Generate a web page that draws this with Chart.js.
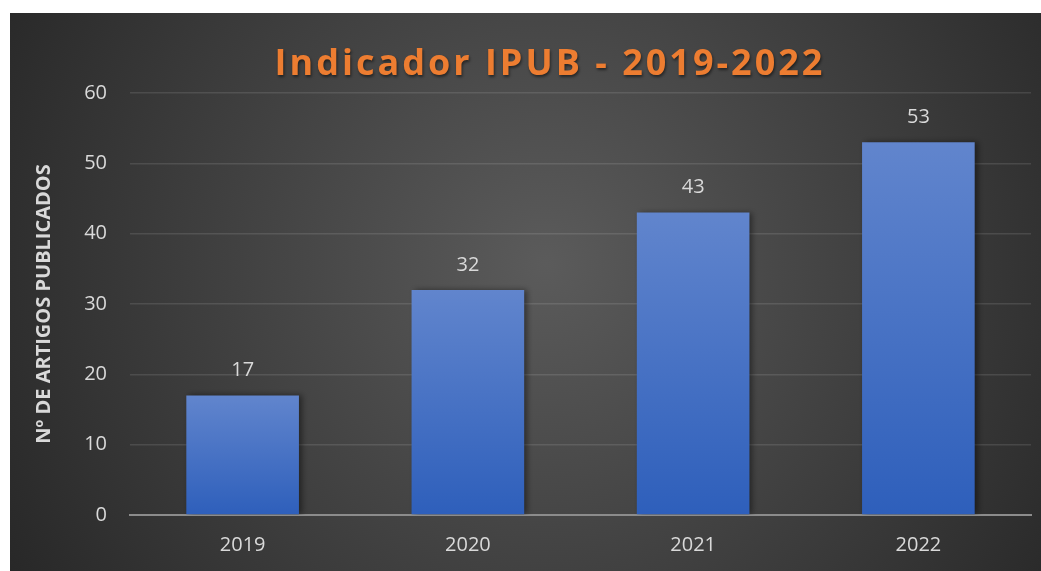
<!DOCTYPE html>
<html>
<head>
<meta charset="UTF-8">
<title>Indicador IPUB</title>
<script src="https://cdn.jsdelivr.net/npm/chart.js"></script>
<style>
    html, body { margin: 0; padding: 0; background: #fff; overflow: hidden; }
    #wrap { position: absolute; left: 10px; top: 13px; width: 1031px; height: 558px; }
</style>
</head>
<body>
<div id="wrap"><canvas id="barChart"></canvas></div>

<script>
    // dados do gráfico
    const anos = ['2019', '2020', '2021', '2022'];
    const artigos = [17, 32, 43, 53];
    const yTicks = [0, 10, 20, 30, 40, 50, 60];
    const titulo = 'Indicador IPUB - 2019-2022';

    const txtCor = '#d9d9d9';
    const fonte = '"Open Sans", sans-serif';

    // fundo escuro com gradiente radial + título
    const fundo = {
        id: 'fundo',
        beforeDraw(chart) {
            const ctx = chart.ctx;
            const w = chart.width, h = chart.height;
            const g = ctx.createRadialGradient(w * 0.52, h * 0.45, 0, w * 0.52, h * 0.45, w * 0.62);
            g.addColorStop(0, '#5b5b5b');
            g.addColorStop(1, '#262626');
            ctx.save();
            ctx.fillStyle = g;
            ctx.fillRect(0, 0, w, h);

            // título com espaçamento e sombra
            ctx.fillStyle = '#ed7d31';
            ctx.font = 'bold 36px ' + fonte;
            ctx.letterSpacing = '3px';
            ctx.textAlign = 'center';
            ctx.textBaseline = 'middle';
            ctx.shadowColor = 'rgba(0,0,0,0.5)';
            ctx.shadowBlur = 3;
            ctx.shadowOffsetX = 1;
            ctx.shadowOffsetY = 2;
            ctx.fillText(titulo, 540, 52);
            ctx.restore();
        }
    };

    // sombra nas barras
    const sombra = {
        id: 'sombra',
        beforeDatasetsDraw(chart) {
            const ctx = chart.ctx;
            ctx.save();
            ctx.shadowColor = 'rgba(0,0,0,0.45)';
            ctx.shadowBlur = 6;
            ctx.shadowOffsetX = 3;
            ctx.shadowOffsetY = 0;
        },
        afterDatasetsDraw(chart) {
            chart.ctx.restore();
        }
    };

    // rótulos de valor acima das barras
    const rotulos = {
        id: 'rotulos',
        afterDatasetsDraw(chart) {
            const ctx = chart.ctx;
            const meta = chart.getDatasetMeta(0);
            ctx.save();
            ctx.fillStyle = txtCor;
            ctx.font = '20px ' + fonte;
            ctx.textAlign = 'center';
            ctx.textBaseline = 'middle';
            meta.data.forEach(function(bar, i) {
                ctx.fillText(String(artigos[i]), bar.x, bar.y - 25);
            });
            ctx.restore();
        }
    };

    function corBarra(context) {
        const chart = context.chart;
        const y = chart.scales.y;
        if (!y || context.dataIndex === undefined) return '#4472c4';
        const topo = y.getPixelForValue(artigos[context.dataIndex]);
        const base = y.getPixelForValue(0);
        if (!isFinite(topo) || !isFinite(base)) return '#4472c4';
        const g = chart.ctx.createLinearGradient(0, topo, 0, base);
        g.addColorStop(0, '#6185cd');
        g.addColorStop(1, '#2e5fbb');
        return g;
    }

    const config = {
        type: 'bar',
        data: {
            labels: anos,
            datasets: [{
                label: 'Nº de artigos',
                data: artigos,
                backgroundColor: corBarra,
                borderWidth: 0,
                barPercentage: 0.5,
                categoryPercentage: 1.0
            }]
        },
        options: {
            responsive: true,
            maintainAspectRatio: false,
            animation: false,
            layout: {
                padding: { left: 0, right: 10, top: 80, bottom: 14 }
            },
            plugins: {
                legend: { display: false },
                tooltip: { enabled: false },
                title: { display: false }
            },
            scales: {
                x: {
                    afterFit: function(scale) { scale.height = 42; },
                    grid: { display: false, drawTicks: false },
                    border: { display: true, color: '#8c8c8c', width: 2 },
                    ticks: {
                        color: txtCor,
                        padding: 18,
                        font: { family: fonte, size: 20 }
                    }
                },
                y: {
                    min: 0,
                    max: 60,
                    afterFit: function(scale) { scale.width = 120; },
                    afterBuildTicks: function(scale) {
                        scale.ticks = yTicks.map(function(v) { return { value: v }; });
                    },
                    grid: { color: 'rgba(255,255,255,0.11)', lineWidth: 1.5, drawTicks: false },
                    border: { display: false },
                    ticks: {
                        color: txtCor,
                        padding: 23,
                        font: { family: fonte, size: 20 }
                    },
                    title: {
                        display: true,
                        text: 'Nº DE ARTIGOS PUBLICADOS',
                        color: txtCor,
                        font: { family: fonte, size: 20, weight: 'bold' },
                        padding: { top: 22, bottom: 0 }
                    }
                }
            }
        },
        plugins: [fundo, sombra, rotulos]
    };

    new Chart(document.getElementById('barChart'), config);
</script>
</body>
</html>
